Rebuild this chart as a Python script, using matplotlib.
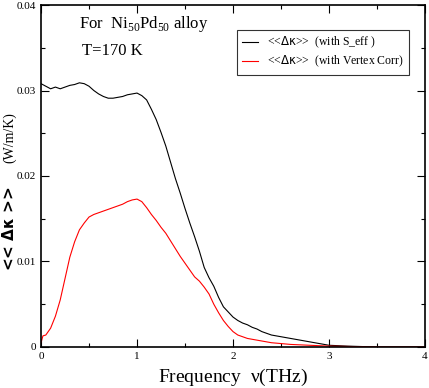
import numpy as np
import matplotlib.pyplot as plt

## frequency grid (THz) and the two curves
freq_s = [0.0, 0.05, 0.1, 0.15, 0.2, 0.25, 0.3, 0.35, 0.4, 0.45, 0.5, 0.55, 0.6, 0.65,
          0.7, 0.75, 0.8, 0.85, 0.9, 0.95, 1.0, 1.05, 1.1, 1.15, 1.2, 1.25, 1.3, 1.35,
          1.4, 1.45, 1.5, 1.55, 1.6, 1.65, 1.7, 1.75, 1.8, 1.85, 1.9, 1.95, 2.0, 2.05,
          2.1, 2.15, 2.2, 2.25, 2.3, 2.35, 2.4, 2.45, 2.5, 2.6, 2.7, 2.8, 2.9, 3.0,
          3.2, 3.5, 4.0]
kappa_s = [0.0308, 0.0305, 0.0302, 0.0304, 0.0302, 0.0304, 0.0306, 0.0307, 0.0309,
           0.0308, 0.0305, 0.0300, 0.0296, 0.0293, 0.0291, 0.0291, 0.0292, 0.0293,
           0.0295, 0.0296, 0.0297, 0.0294, 0.0289, 0.0278, 0.0266, 0.0251, 0.0235,
           0.0216, 0.0197, 0.0180, 0.0162, 0.0145, 0.0129, 0.0112, 0.0093, 0.0081,
           0.0071, 0.0058, 0.0047, 0.0041, 0.0035, 0.0031, 0.0028, 0.0026, 0.0023,
           0.0021, 0.0018, 0.0016, 0.0014, 0.0013, 0.0012, 0.0010, 0.0008, 0.0006,
           0.0004, 0.0002, 0.0001, 0.0, 0.0]

freq_v = [0.0, 0.02, 0.05, 0.1, 0.15, 0.2, 0.25, 0.3, 0.35, 0.4, 0.45, 0.5, 0.55, 0.6,
          0.65, 0.7, 0.75, 0.8, 0.85, 0.9, 0.95, 1.0, 1.05, 1.1, 1.15, 1.2, 1.25, 1.3,
          1.35, 1.4, 1.45, 1.5, 1.55, 1.6, 1.65, 1.7, 1.75, 1.8, 1.85, 1.9, 1.95, 2.0,
          2.05, 2.1, 2.15, 2.2, 2.3, 2.4, 2.5, 2.6, 2.8, 3.0, 3.5, 4.0]
kappa_v = [0.0005, 0.0013, 0.0014, 0.0022, 0.0036, 0.0055, 0.0080, 0.0105, 0.0123,
           0.0137, 0.0145, 0.0152, 0.0155, 0.0157, 0.0159, 0.0161, 0.0163, 0.0165,
           0.0167, 0.0170, 0.0172, 0.0173, 0.0170, 0.0163, 0.0155, 0.0148, 0.0140,
           0.0133, 0.0124, 0.0115, 0.0106, 0.0098, 0.0090, 0.0082, 0.0077, 0.0070,
           0.0062, 0.0050, 0.0040, 0.0031, 0.0024, 0.0018, 0.0014, 0.0012, 0.0010,
           0.0009, 0.0007, 0.0005, 0.0004, 0.0003, 0.0002, 0.0001, 0.0, 0.0]

x_ticks = [0, 1, 2, 3, 4]
y_ticks = [0, 0.01, 0.02, 0.03, 0.04]
y_ticklabels = ['0', '0.01', '0.02', '0.03', '0.04']

plt.rcParams['font.family'] = ['Liberation Serif', 'DejaVu Serif']
plt.rcParams['mathtext.fontset'] = 'dejavusans'

fig = plt.figure(figsize=(4.29, 3.88), dpi=100)
ax = fig.add_axes([0.0956, 0.1057, 0.8951, 0.8814])

ax.plot(freq_s, kappa_s, color='black', lw=0.8,
        label=r'<<$\mathsf{\Delta\kappa}$>>  (with S_eff )')
ax.plot(freq_v, kappa_v, color='red', lw=0.8,
        label=r'<<$\mathsf{\Delta\kappa}$>>  (with Vertex Corr)')

ax.set_xlim(0, 4)
ax.set_ylim(0, 0.04)
ax.set_xticks(x_ticks)
ax.set_xticklabels([str(t) for t in x_ticks])
ax.set_yticks(y_ticks)
ax.set_yticklabels(y_ticklabels)
ax.set_xticks(np.arange(0, 4.01, 0.5), minor=True)
ax.set_yticks(np.arange(0, 0.0401, 0.005), minor=True)
ax.tick_params(which='both', direction='in', top=True, right=True, labelsize=8)
ax.tick_params(which='major', length=6, width=0.8)
ax.tick_params(which='minor', length=3, width=0.8)
for s in ax.spines.values():
    s.set_linewidth(1.2)

ax.text(0.4, 0.0373, r'For  Ni$_{\mathregular{50}}$Pd$_{\mathregular{50}}$ alloy', fontsize=12)
ax.text(0.43, 0.0341, 'T=170 K', fontsize=12)

leg = ax.legend(loc='upper left', bbox_to_anchor=(0.495, 0.945), fontsize=8.5,
                handlelength=1.3, frameon=True, fancybox=False, edgecolor='black',
                borderpad=0.45, labelspacing=0.3)
leg.get_frame().set_linewidth(0.8)

ax.set_xlabel(r'Frequency  $\mathregular{\nu}$(THz)', fontsize=14, labelpad=4)

# y label: sans part and serif units
fig.text(0.022, 0.41, r'<< $\mathbf{\Delta\kappa}$ >>', rotation=90, fontsize=11,
         family='DejaVu Sans', weight='bold', ha='center', va='center')
fig.text(0.022, 0.645, '(W/m/K)', rotation=90, fontsize=10, ha='center', va='center')

fig.savefig('out.png', dpi=100)
